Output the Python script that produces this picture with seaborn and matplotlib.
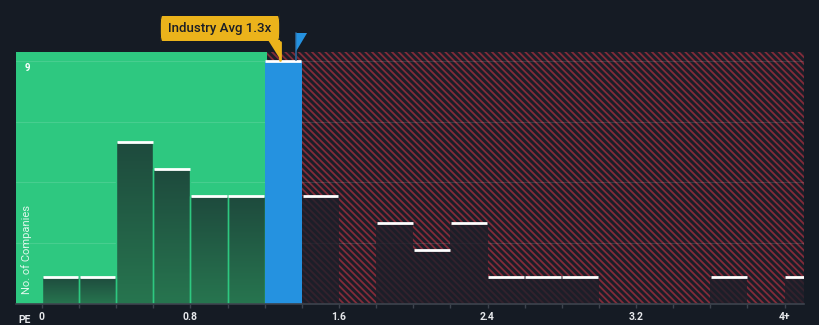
import numpy as np
import pandas as pd
import matplotlib
matplotlib.use("Agg")
import matplotlib.pyplot as plt
import seaborn as sns
from matplotlib.patches import Rectangle, Polygon, FancyBboxPatch
from matplotlib.transforms import blended_transform_factory
from matplotlib.colors import LinearSegmentedColormap

# ---- data ----
bin_left = [0.0, 0.2, 0.4, 0.6, 0.8, 1.0, 1.2, 1.4, 1.6, 1.8, 2.0, 2.2,
            2.4, 2.6, 2.8, 3.0, 3.2, 3.4, 3.6, 3.8, 4.0]
counts = [1, 1, 6, 5, 4, 4, 9, 4, 0, 3, 2, 3, 1, 1, 1, 0, 0, 0, 1, 0, 1]
tick_values = [0, 0.8, 1.6, 2.4, 3.2, 4.0]
tick_labels = ["0", "0.8", "1.6", "2.4", "3.2", "4+"]
industry_avg_label = "Industry Avg 1.3x"
industry_avg = 1.28
company_pe = 1.37
fair_limit = 1.21
bin_width = 0.2

BG = "#151b24"
GREEN = "#2ec880"
RED_STRIPE = "#822b39"
HATCH_BG = "#1b1e28"
BLUE = "#2592e0"
YELLOW = "#ebb31b"

sns.set_theme(style="white")
plt.rcParams["font.family"] = ["Roboto", "DejaVu Sans"]
plt.rcParams["hatch.linewidth"] = 1.3

fig = plt.figure(figsize=(8.2, 3.25), dpi=100, facecolor=BG)
ax = fig.add_axes([16 / 820, 21 / 325, 788 / 820, 252 / 325])
ax.set_facecolor(BG)

xmin, xmax = -0.14, 4.105
ymax = 9.33

df = pd.DataFrame({"pe": [b + bin_width / 2 for b in bin_left], "n": counts})
edges = bin_left + [bin_left[-1] + bin_width]
sns.histplot(data=df, x="pe", weights="n", bins=edges, ax=ax, element="bars",
             stat="count", fill=True, linewidth=0, alpha=1, zorder=3)

ax.set_xlim(xmin, xmax)
ax.set_ylim(0, ymax)

# background regions
ax.add_patch(Rectangle((xmin, 0), fair_limit - xmin, ymax, facecolor=GREEN,
                       edgecolor="none", zorder=0))
ax.add_patch(Rectangle((fair_limit, 0), xmax - fair_limit, ymax,
                       facecolor=HATCH_BG, edgecolor=RED_STRIPE,
                       hatch="\\\\\\\\\\", linewidth=0, zorder=0))

# gridlines
for gy in [2.25, 4.5, 6.75, 9]:
    ax.axhline(gy, color="white", alpha=0.12, lw=0.8, zorder=1)

grad = np.linspace(0, 1, 64).reshape(-1, 1)
gcmap = LinearSegmentedColormap.from_list("g", ["#1e4a3d", "#27754f"])

for p in list(ax.patches):
    if p.get_zorder() != 3:
        continue
    x0 = p.get_x()
    w = p.get_width()
    h = p.get_height()
    if h <= 0:
        p.set_visible(False)
        continue
    mid = x0 + w / 2
    if abs(mid - 1.3) < 0.05:
        p.set_facecolor(BLUE)
        p.set_edgecolor("none")
        p.set_zorder(4)
    elif mid < fair_limit:
        p.set_facecolor("none")
        p.set_edgecolor(GREEN)
        p.set_linewidth(1.0)
        p.set_zorder(3.5)
        im = ax.imshow(grad, cmap=gcmap, extent=(x0, x0 + w, 0, h),
                       aspect="auto", origin="upper", zorder=3)
        im.set_clip_path(p)
    else:
        p.set_facecolor("#1d1f29")
        p.set_alpha(0.78)
        p.set_edgecolor("none")
    ax.plot([x0 + 0.004, x0 + w - 0.004], [h, h], color="white", lw=2.0,
            solid_capstyle="butt", zorder=5)

ax.set_xlim(xmin, xmax)
ax.set_ylim(0, ymax)

# axes styling
for s in ["top", "right", "left"]:
    ax.spines[s].set_visible(False)
ax.spines["bottom"].set_color("#3d434d")
ax.spines["bottom"].set_linewidth(1.2)
ax.spines["bottom"].set_zorder(6)
ax.set_xticks([b for b in bin_left], minor=True)
ax.set_xticks(tick_values)
ax.set_xticklabels(tick_labels)
ax.tick_params(axis="x", which="both", direction="out", length=3, width=1,
               color="#3d434d", labelcolor="#e6e8eb", labelsize=7.5, pad=3,
               bottom=True)
for t in ax.get_xticklabels():
    t.set_fontweight("bold")
ax.set_yticks([])
ax.set_xlabel("")
ax.set_ylabel("")

fig.text(18 / 820, 1 - 323 / 325, "PE", color="#e6e8eb", fontsize=7.5,
         fontweight="bold", ha="left", va="baseline")
fig.text(27 / 820, 1 - 68 / 325, "9", color="white", fontsize=7,
         fontweight="bold", ha="center", va="center")
fig.text(27 / 820, 1 - 250 / 325, "No. of Companies", color="white", alpha=0.85,
         fontsize=8, rotation=90, ha="center", va="center")

# industry average label
tr = blended_transform_factory(ax.transData, ax.transAxes)
ax.plot([industry_avg, industry_avg], [1.04, (304 - 60) / 252], color=YELLOW,
        lw=2, transform=tr, clip_on=False, zorder=7)
box_l, box_r = 0.636, 1.282
box_b, box_t = (304 - 41) / 252, (304 - 16) / 252
ax.add_patch(FancyBboxPatch((box_l, box_b), box_r - box_l, box_t - box_b,
                            boxstyle="round,pad=0,rounding_size=0.012",
                            facecolor=YELLOW, edgecolor="none", transform=tr,
                            clip_on=False, zorder=7, mutation_aspect=10))
ax.add_patch(Polygon([(industry_avg - 0.06, box_b + 0.002),
                      (industry_avg + 0.004, box_b + 0.002),
                      (industry_avg + 0.004, box_b - 0.07)],
                     closed=True, facecolor=YELLOW, edgecolor="none",
                     transform=tr, clip_on=False, zorder=7))
ax.text((box_l + box_r) / 2, (box_b + box_t) / 2, industry_avg_label,
        transform=tr, ha="center", va="center", fontsize=9.5,
        color="#1a1d26", fontweight="medium", zorder=8)

# company flag
ax.plot([company_pe, company_pe], [(304 - 60) / 252, (304 - 33) / 252],
        color="#2a5f8f", lw=1.3, transform=tr, clip_on=False, zorder=7)
ax.add_patch(Polygon([(company_pe, (304 - 33) / 252),
                      (company_pe + 0.058, (304 - 33) / 252),
                      (company_pe, (304 - 51) / 252)],
                     closed=True, facecolor=BLUE, edgecolor="none",
                     transform=tr, clip_on=False, zorder=8))

fig.savefig("out.png", dpi=100, facecolor=BG)
